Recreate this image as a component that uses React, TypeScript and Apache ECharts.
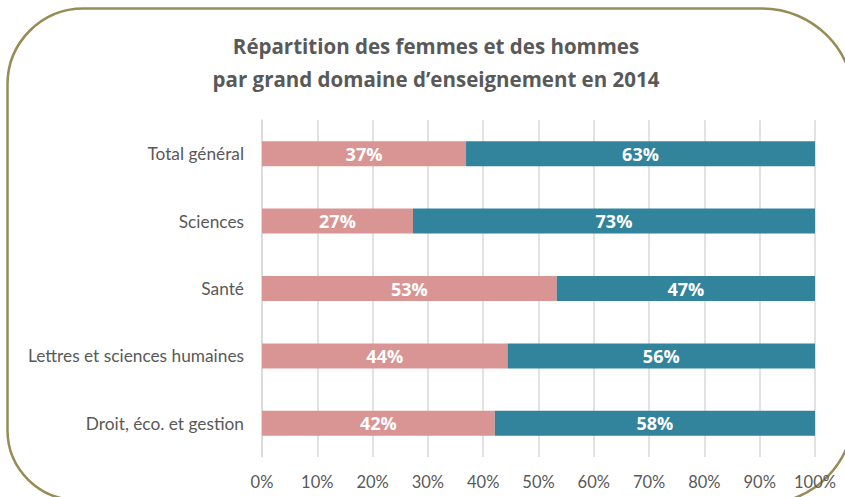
import React, { useEffect, useRef } from "react";
import * as echarts from "echarts";

const categories = [
  "Total général",
  "Sciences",
  "Santé",
  "Lettres et sciences humaines",
  "Droit, éco. et gestion",
];
const femmes = [36.9, 27.3, 53.3, 44.4, 42.1];
const hommes = [63.1, 72.7, 46.7, 55.6, 57.9];
const xTicks = { min: 0, max: 100, interval: 10 };
const titleText = "Répartition des femmes et des hommes\npar grand domaine d’enseignement en 2014";

const BORDER_D =
  "M 7.5 430 L 7.5 84.5 C 7.5 42.5 41.5 8.5 83.5 8.5 L 762 8.5 " +
  "C 812.8 8.5 854 49.7 854 100.5 L 854 412 C 854 462.8 812.8 504 762 504 " +
  "L 77.5 500 C 38.8 500 7.5 468.7 7.5 430 Z";

let registered = false;

export default function App() {
  const ref = useRef<HTMLDivElement>(null);
  useEffect(() => {
    if (!ref.current) return;
    if (!registered) {
      echarts.graphic.registerShape("frame", echarts.graphic.extendPath(BORDER_D, {}));
      registered = true;
    }
    const chart = echarts.init(ref.current, null, { renderer: "svg" });
    const labelFmt = (p: any) => Math.round(p.value) + "%";
    const barLabel = {
      show: true,
      position: "inside",
      color: "#ffffff",
      fontFamily: "Open Sans",
      fontWeight: "bold",
      fontSize: 18,
      formatter: labelFmt,
    };
    chart.setOption({
      animation: false,
      backgroundColor: "#ffffff",
      graphic: [
        {
          type: "frame",
          x: 0,
          y: 0,
          silent: true,
          style: { fill: "none", stroke: "#978c55", lineWidth: 2.5 },
        },
        {
          type: "text",
          x: 436,
          y: 62,
          silent: true,
          style: {
            text: titleText,
            textAlign: "center",
            textVerticalAlign: "middle",
            fontFamily: "Open Sans",
            fontWeight: "bold",
            fontSize: 20.5,
            lineHeight: 33,
            fill: "#595959",
          },
        },
      ],
      grid: { left: 262, right: 30, top: 120, bottom: 40, containLabel: false },
      xAxis: {
        type: "value",
        min: xTicks.min,
        max: xTicks.max,
        interval: xTicks.interval,
        axisLine: { show: false },
        axisTick: { show: false },
        axisLabel: {
          formatter: "{value}%",
          color: "#595959",
          fontFamily: "Lato",
          fontSize: 16.5,
          margin: 16,
        },
        splitLine: { show: true, lineStyle: { color: "#d9d9d9", width: 1.5 } },
      },
      yAxis: {
        type: "category",
        inverse: true,
        data: categories,
        axisLine: { show: true, lineStyle: { color: "#d9d9d9", width: 1.5 } },
        axisTick: { show: false },
        axisLabel: {
          color: "#595959",
          fontFamily: "Lato",
          fontSize: 17.3,
          margin: 18,
        },
      },
      series: [
        {
          name: "Femmes",
          type: "bar",
          stack: "total",
          data: femmes,
          barWidth: 25,
          itemStyle: { color: "#d99593" },
          label: barLabel,
        },
        {
          name: "Hommes",
          type: "bar",
          stack: "total",
          data: hommes,
          barWidth: 25,
          itemStyle: { color: "#31849b" },
          label: barLabel,
        },
      ],
    });
    return () => chart.dispose();
  }, []);
  return (
    <div style={{ position: "fixed", left: 0, top: 0, width: 845, height: 497 }}>
      <div ref={ref} style={{ width: 845, height: 497 }} />
    </div>
  );
}
